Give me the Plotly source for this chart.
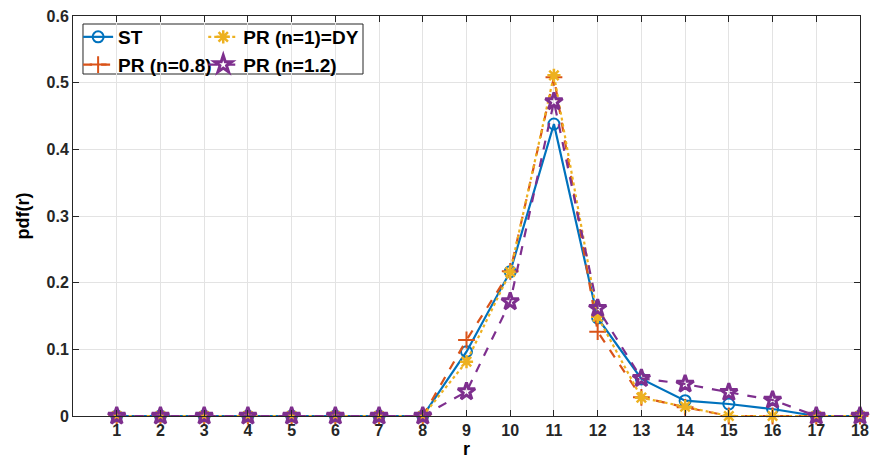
import plotly.graph_objects as go

r = list(range(1, 19))
st = [0, 0, 0, 0, 0, 0, 0, 0, 0.0965, 0.2165, 0.438, 0.147, 0.0555, 0.023, 0.018, 0.0105, 0, 0]
pr08 = [0, 0, 0, 0, 0, 0, 0, 0, 0.114, 0.217, 0.508, 0.1265, 0.028, 0.013, 0, 0, 0, 0]
dy = [0, 0, 0, 0, 0, 0, 0, 0, 0.0815, 0.216, 0.511, 0.149, 0.0275, 0.014, 0, 0, 0, 0]
pr12 = [0, 0, 0, 0, 0, 0, 0, 0, 0.0365, 0.1715, 0.4715, 0.1615, 0.0565, 0.048, 0.0355, 0.024, 0, 0]

names = ["ST", "PR (n=0.8)", "PR (n=1)=DY", "PR (n=1.2)"]
colors = ["#0072BD", "#D95319", "#EDB120", "#7E2F8E"]

fig = go.Figure()
fig.add_trace(go.Scatter(x=r, y=st, name=names[0], mode="lines+markers", cliponaxis=False,
                         line=dict(color=colors[0], width=2.2, dash="solid"),
                         marker=dict(symbol="circle-open", size=11, line=dict(width=2, color=colors[0])),
                         legend="legend"))
fig.add_trace(go.Scatter(x=r, y=pr08, name=names[1], mode="lines+markers", cliponaxis=False,
                         line=dict(color=colors[1], width=2.2, dash="dash"),
                         marker=dict(symbol="cross-thin-open", size=12, line=dict(width=2, color=colors[1])),
                         legend="legend"))
fig.add_trace(go.Scatter(x=r, y=dy, name=names[2], mode="lines+markers", cliponaxis=False,
                         line=dict(color=colors[2], width=2.2, dash="dot"),
                         marker=dict(symbol="asterisk-open", size=11, line=dict(width=2.5, color=colors[2])),
                         legend="legend2"))
fig.add_trace(go.Scatter(x=r, y=pr12, name=names[3], mode="lines+markers", cliponaxis=False,
                         line=dict(color=colors[3], width=2.2, dash="dash"),
                         marker=dict(symbol="star-open", size=13, line=dict(width=3, color=colors[3])),
                         legend="legend2"))

axis_common = dict(showline=True, linecolor="#262626", linewidth=1, mirror="ticks",
                   ticks="inside", ticklen=6, tickcolor="#262626", automargin=False,
                   showgrid=True, gridcolor="#e3e3e3", gridwidth=1, zeroline=False,
                   tickfont=dict(size=16, color="#262626", weight="bold"))

fig.update_xaxes(range=[0, 18], tickmode="array", tickvals=r, ticktext=[str(v) for v in r],
                 title=dict(text="r", font=dict(size=18, color="#000000", weight="bold"), standoff=2),
                 **axis_common)
fig.update_yaxes(range=[0, 0.6], tickmode="array", tickvals=[0, 0.1, 0.2, 0.3, 0.4, 0.5, 0.6],
                 ticktext=["0", "0.1", "0.2", "0.3", "0.4", "0.5", "0.6"],
                 title=dict(text="pdf(r)", font=dict(size=18, color="#000000", weight="bold"), standoff=12),
                 **axis_common)

leg_common = dict(bgcolor="rgba(255,255,255,0)", borderwidth=0, itemwidth=30,
                  font=dict(size=19, color="#000000", weight="bold", family="Liberation Sans"),
                  xanchor="left", yanchor="top", tracegroupgap=0, orientation="v")

fig.update_layout(
    width=871, height=470,
    margin=dict(l=73, r=11, t=16, b=54),
    paper_bgcolor="white", plot_bgcolor="white",
    font=dict(family="Liberation Sans", color="#262626"),
    showlegend=True,
    legend=dict(x=0.0065, y=0.995, **leg_common),
    legend2=dict(x=0.1655, y=0.995, **leg_common),
    shapes=[dict(type="rect", xref="paper", yref="paper", x0=0.0127, x1=0.3685, y0=0.855, y1=0.98,
                 line=dict(color="#262626", width=1), fillcolor="white", layer="below")],
)

fig.write_html("out.html")
